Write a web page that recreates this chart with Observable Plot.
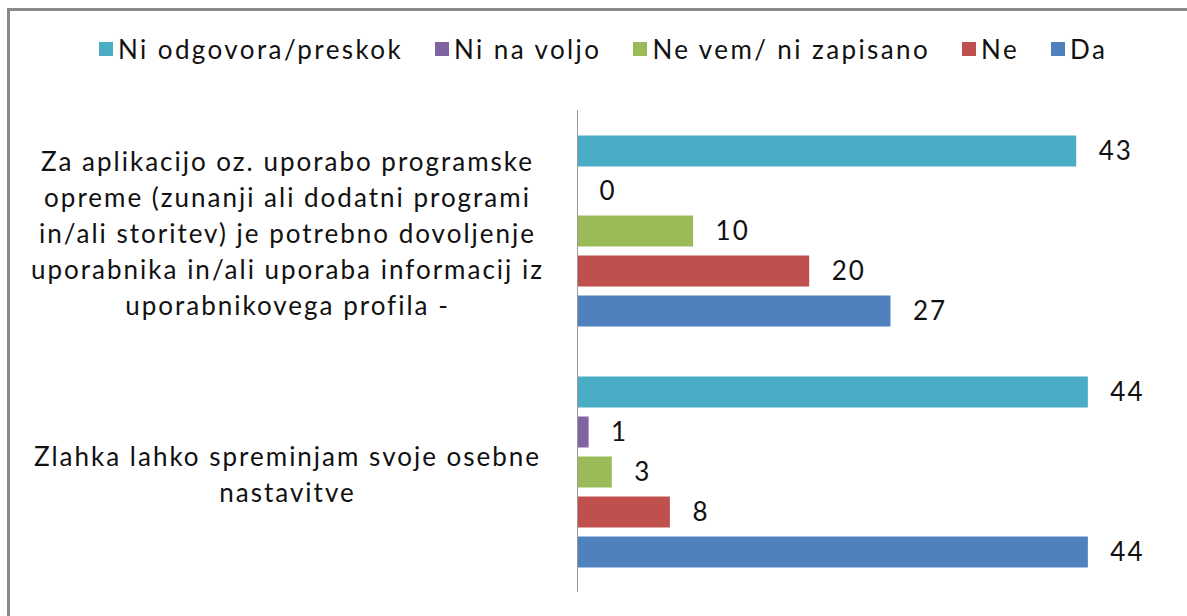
<!DOCTYPE html>
<html>
<head>
<meta charset="utf-8">
<script src="https://cdn.jsdelivr.net/npm/d3@7"></script>
<script src="https://cdn.jsdelivr.net/npm/@observablehq/plot@0.6"></script>
<style>
  html, body { margin: 0; padding: 0; background: #fff; overflow: hidden; width: 1187px; height: 616px; }
  #frame { position: absolute; left: 7px; top: 8px; width: 1300px; height: 800px; border: 3px solid #8a8a8a; box-sizing: border-box; }
  #legend { position: absolute; top: 33px; left: 99px; display: flex; gap: 32px; font-family: Lato, sans-serif; font-size: 26px; letter-spacing: 2.4px; color: #111; white-space: nowrap; }
  #legend .item { display: flex; align-items: center; }
  #legend .sw { width: 14px; height: 14px; margin-right: 5px; }
  #chart { position: absolute; left: 0; top: 90px; }
  #chart text { letter-spacing: 2px; }
</style>
</head>
<body>
<div id="frame"></div>
<div id="legend"></div>
<div id="chart"></div>
<script>
const questions = [
  "Za aplikacijo oz. uporabo programske\nopreme (zunanji ali dodatni programi\nin/ali storitev) je potrebno dovoljenje\nuporabnika in/ali uporaba informacij iz\nuporabnikovega profila -",
  "Zlahka lahko spreminjam svoje osebne\nnastavitve"
];
const series = ["Ni odgovora/preskok", "Ni na voljo", "Ne vem/ ni zapisano", "Ne", "Da"];
const colors = ["#4BACC6", "#8064A2", "#9BBB59", "#C0504D", "#4F81BD"];
const valuesQ1 = [43, 0, 10, 20, 27];
const valuesQ2 = [44, 1, 3, 8, 44];

const rows = [];
[valuesQ1, valuesQ2].forEach((vals, qi) => {
  vals.forEach((v, si) => rows.push({question: questions[qi], series: series[si], value: v}));
});

// legend
const lg = d3.select("#legend");
series.forEach((s, i) => {
  const it = lg.append("div").attr("class", "item");
  it.append("div").attr("class", "sw").style("background", colors[i]);
  it.append("span").text(s);
});

const chart = Plot.plot({
  width: 1187,
  height: 520,
  marginLeft: 577,
  marginRight: 29.5,
  marginTop: 19.5,
  marginBottom: 18.5,
  style: {fontFamily: "Lato, sans-serif", background: "transparent"},
  x: {domain: [0, 50], axis: null},
  y: {domain: series, paddingInner: 0.225, paddingOuter: 0.625, axis: null},
  fy: {domain: questions, padding: 0, axis: null},
  color: {domain: series, range: colors},
  marks: [
    Plot.barX(rows, {x: "value", y: "series", fy: "question", fill: "series"}),
    Plot.text(rows, {x: "value", y: "series", fy: "question", text: d => String(d.value),
      textAnchor: "start", dx: 22, fontSize: 26, fill: "#111"}),
    Plot.text(questions, {fy: d => d, text: d => d, frameAnchor: "left", dx: -290,
      textAnchor: "middle", lineAnchor: "middle", lineHeight: 1.385, fontSize: 26, fill: "#111"}),
    Plot.ruleX([0], {stroke: "#999", strokeWidth: 1})
  ]
});
document.getElementById("chart").appendChild(chart);
</script>
</body>
</html>
